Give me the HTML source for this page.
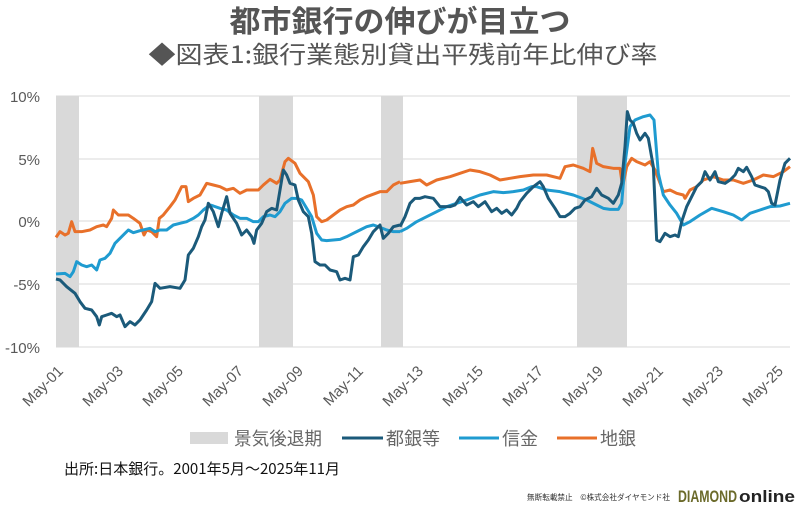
<!DOCTYPE html>
<html><head><meta charset="utf-8"><style>
body{margin:0;background:#fff}
svg{display:block}
text{font-family:"Liberation Sans","Noto Sans CJK JP",sans-serif}
</style></head><body>
<svg width="800" height="508" viewBox="0 0 800 508" xmlns="http://www.w3.org/2000/svg">
<rect width="800" height="508" fill="#fff"/>
<text x="400" y="32" text-anchor="middle" font-size="30" font-weight="bold" fill="#555" textLength="341" lengthAdjust="spacingAndGlyphs" style="font-family:'Noto Sans CJK JP',sans-serif">都市銀行の伸びが目立つ</text>
<text x="403" y="63" text-anchor="middle" font-size="24" fill="#555" textLength="509" lengthAdjust="spacingAndGlyphs" style="font-family:'Noto Sans CJK JP',sans-serif">◆図表1:銀行業態別貸出平残前年比伸び率</text>
<!-- recessions -->
<g fill="#d9d9d9">
<rect x="56" y="96" width="23" height="251"/>
<rect x="259" y="96" width="34" height="251"/>
<rect x="381" y="96" width="22" height="251"/>
<rect x="577" y="96" width="50" height="251"/>
</g>
<g stroke="#d9d9d9" stroke-width="1">
<line x1="56" x2="790" y1="96" y2="96"/>
<line x1="56" x2="790" y1="159" y2="159"/>
<line x1="56" x2="790" y1="221" y2="221"/>
<line x1="56" x2="790" y1="284" y2="284"/>
<line x1="56" x2="790" y1="347" y2="347"/>
</g>
<g font-size="15" fill="#595959" text-anchor="end">
<text x="40" y="102">10%</text>
<text x="40" y="165">5%</text>
<text x="40" y="227">0%</text>
<text x="40" y="290">-5%</text>
<text x="40" y="353">-10%</text>
</g>
<g font-size="15" fill="#595959" text-anchor="end">
<text transform="translate(64,372) rotate(-45)">May-01</text>
<text transform="translate(124,372) rotate(-45)">May-03</text>
<text transform="translate(184,372) rotate(-45)">May-05</text>
<text transform="translate(244,372) rotate(-45)">May-07</text>
<text transform="translate(304,372) rotate(-45)">May-09</text>
<text transform="translate(364,372) rotate(-45)">May-11</text>
<text transform="translate(424,372) rotate(-45)">May-13</text>
<text transform="translate(484,372) rotate(-45)">May-15</text>
<text transform="translate(544,372) rotate(-45)">May-17</text>
<text transform="translate(604,372) rotate(-45)">May-19</text>
<text transform="translate(664,372) rotate(-45)">May-21</text>
<text transform="translate(724,372) rotate(-45)">May-23</text>
<text transform="translate(784,372) rotate(-45)">May-25</text>
</g>
<g fill="none" stroke-width="3" stroke-linejoin="round">
<g transform="translate(0,80) scale(0.33333)">
<polyline vector-effect="non-scaling-stroke" stroke="#e8702a" points="168,472 180,455 195,465 205,460 215,425 225,455 245,455 270,450 290,440 310,435 320,440 335,415 340,390 355,405 370,405 385,405 400,415 420,430 432,465 440,450 455,455 470,470 478,415 490,405 510,380 525,360 545,320 558,320 565,365 580,355 600,345 620,310 640,315 660,320 680,330 700,325 720,340 740,330 775,330 790,315 810,298 830,310 840,300 855,245 865,235 885,250 900,280 925,305 940,345 950,410 965,425 980,420 1000,405 1020,390 1040,380 1060,375 1080,360 1100,350 1140,335 1160,335 1180,315 1200,305"/>
<polyline vector-effect="non-scaling-stroke" stroke="#1f9bd0" points="168,582 195,580 210,590 220,575 230,545 245,555 260,560 275,555 290,570 300,540 315,535 330,520 345,490 360,475 375,460 385,450 400,458 420,452 450,445 465,455 480,450 500,450 520,435 540,430 560,425 580,415 595,405 610,390 630,375 640,378 660,385 680,390 700,405 720,415 740,415 760,425 775,425 790,410 810,405 825,410 840,395 855,370 875,355 890,355 905,360 920,385 935,410 950,460 965,480 980,482 1000,480 1020,478 1040,470 1060,460 1080,450 1100,440 1120,435 1140,442 1160,450 1180,455 1200,455"/>
<polyline vector-effect="non-scaling-stroke" stroke="#1b5a7a" points="168,597 180,600 200,620 225,640 240,665 255,685 275,690 290,710 298,735 305,710 320,705 335,700 350,710 360,705 375,740 390,725 405,735 420,720 440,690 455,665 465,610 480,625 510,620 540,625 555,600 565,525 580,505 595,470 605,440 615,420 625,370 640,395 655,440 665,400 680,350 690,400 710,430 725,465 740,450 755,470 762,490 770,450 785,430 800,395 815,385 830,390 845,300 850,270 860,285 870,310 885,315 895,360 910,395 925,410 935,460 945,545 960,555 975,555 990,570 1010,575 1020,600 1035,595 1050,600 1060,530 1075,525 1090,500 1105,480 1120,455 1140,435 1150,475 1165,460 1180,440 1200,435"/>
</g>
<g transform="translate(400,80) scale(0.33333)">
<polyline vector-effect="non-scaling-stroke" stroke="#e8702a" points="0,310 30,305 60,300 80,315 110,300 150,290 180,280 210,270 240,275 270,285 300,300 330,295 360,290 400,285 440,285 480,295 495,260 520,255 550,265 570,275 578,205 590,250 610,260 640,265 660,265 668,320 680,260 695,235 710,245 735,255 750,245 765,270 790,335 810,330 830,340 850,345 855,355 870,330 890,320 910,300 940,290 970,300 1000,300 1030,310 1060,300 1090,285 1120,290 1150,275 1170,260"/>
<polyline vector-effect="non-scaling-stroke" stroke="#1f9bd0" points="0,455 20,445 50,425 80,410 110,395 140,380 170,370 200,360 240,345 280,335 310,338 340,335 370,330 395,320 410,320 440,330 480,335 520,345 560,360 590,375 610,385 630,388 655,388 665,370 675,250 690,140 705,120 730,110 750,105 762,120 775,280 790,345 810,375 830,400 850,435 870,425 900,405 935,385 970,395 1000,405 1025,420 1050,400 1080,390 1110,380 1140,378 1170,370"/>
<polyline vector-effect="non-scaling-stroke" stroke="#1b5a7a" points="0,440 15,410 30,370 45,355 60,355 75,350 100,355 120,380 150,380 165,375 180,352 200,375 220,365 235,380 255,365 275,395 290,385 305,400 320,390 335,405 350,385 360,365 380,340 400,320 420,305 430,320 445,355 465,385 480,410 495,410 510,400 525,385 540,380 555,360 575,350 590,325 605,345 625,355 640,370 655,345 665,310 675,200 682,95 690,120 700,130 710,160 720,180 735,160 745,175 760,260 770,480 780,485 795,460 810,470 825,465 835,470 845,425 860,380 875,350 890,320 905,305 915,275 930,300 945,275 955,305 975,310 990,300 1005,285 1015,265 1030,275 1040,262 1055,290 1065,315 1080,320 1095,325 1105,335 1115,370 1125,375 1140,300 1155,250 1170,235"/>
</g>
</g>
<!-- legend -->
<rect x="190" y="432" width="38" height="12" fill="#d9d9d9"/>
<line x1="342" x2="383" y1="438" y2="438" stroke="#1b5a7a" stroke-width="3"/>
<line x1="459" x2="499" y1="438" y2="438" stroke="#1f9bd0" stroke-width="3"/>
<line x1="557" x2="597" y1="438" y2="438" stroke="#e8702a" stroke-width="3"/>
<g font-size="18" fill="#666" style="font-family:'Noto Sans CJK JP',sans-serif">
<text x="234" y="445" textLength="88" lengthAdjust="spacingAndGlyphs">景気後退期</text>
<text x="386" y="445" textLength="54" lengthAdjust="spacingAndGlyphs">都銀等</text>
<text x="502" y="445" textLength="36" lengthAdjust="spacingAndGlyphs">信金</text>
<text x="600" y="445" textLength="36" lengthAdjust="spacingAndGlyphs">地銀</text>
</g>
<text x="64" y="474" font-size="15" fill="#111" textLength="276" lengthAdjust="spacingAndGlyphs" style="font-family:'Noto Sans CJK JP',sans-serif">出所:日本銀行。2001年5月～2025年11月</text>
<text x="527" y="500" font-size="8" fill="#333" textLength="143" lengthAdjust="spacingAndGlyphs" style="font-family:'Noto Sans CJK JP',sans-serif">無断転載禁止　©株式会社ダイヤモンド社</text>
<text x="678" y="502" font-size="17" font-weight="bold" fill="#6b6a2a" textLength="59" lengthAdjust="spacingAndGlyphs">DIAMOND</text>
<text x="739" y="502" font-size="17" font-weight="bold" fill="#222" textLength="56" lengthAdjust="spacingAndGlyphs">online</text>
</svg>
</body></html>
